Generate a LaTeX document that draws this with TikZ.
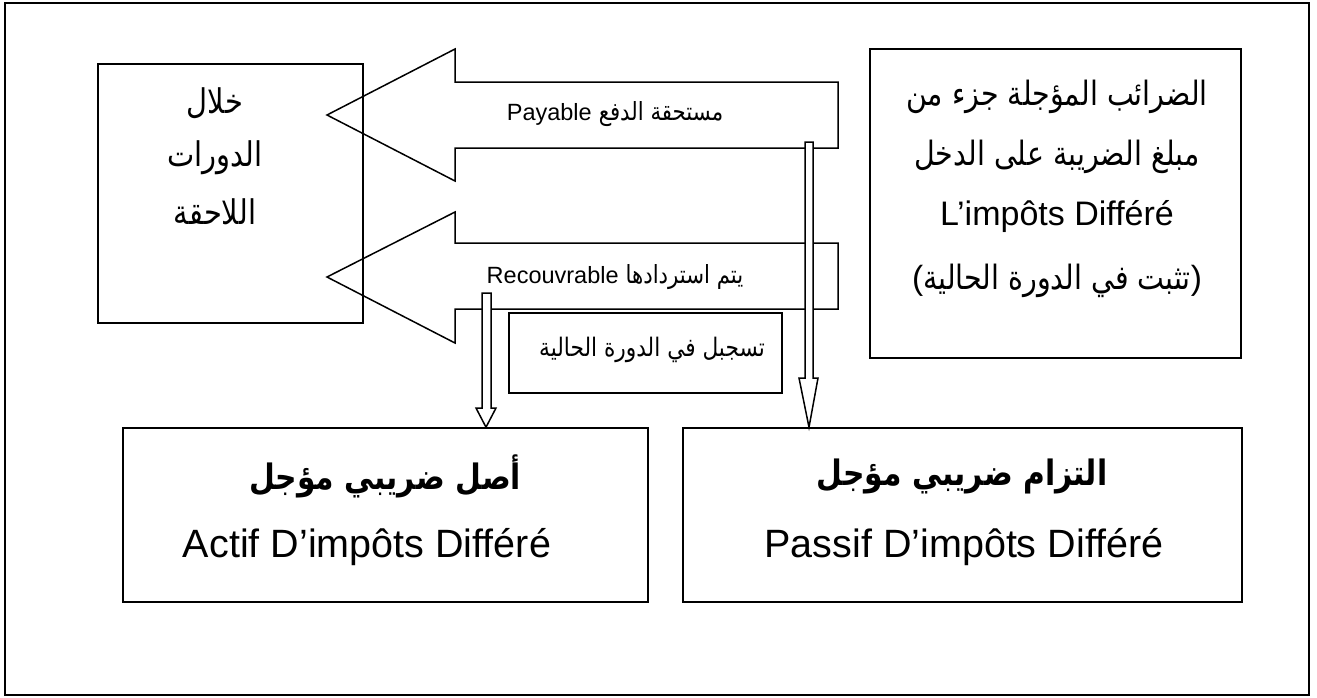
\documentclass[tikz,border=0pt]{standalone}
\usepackage{fontspec}
\setmainfont{Liberation Sans}
\newfontfamily\arabicfont[Script=Arabic, FakeStretch=0.85]{DejaVu Sans}
\TeXXeTstate=1
\newcommand{\artxt}[1]{{\arabicfont\beginR #1\endR}}
\newcommand{\fsArArrow}{\fontsize{25}{30}\selectfont}
\newcommand{\fsLatArrow}{\fontsize{23.5}{28}\selectfont}
\begin{document}
\begin{tikzpicture}[x=1pt,y=-1pt,
  frame/.style={draw, line width=2pt},
  box/.style={draw, line width=1.6pt, inner sep=0pt},
  bigarrow/.style={draw, line width=1.5pt, line join=miter},
  thinarrow/.style={draw, fill=white, line width=1.5pt, line join=miter},
  lbl/.style={inner sep=0pt, anchor=center},
  arleft/.style={font=\fontsize{34}{40}\selectfont},
  arcur/.style={font=\fontsize{25.5}{30}\selectfont},
  arright/.style={font=\fontsize{33.5}{40}\selectfont},
  arbold/.style={font=\fontsize{35}{42}\selectfont\bfseries},
  latbig/.style={font=\fontsize{39.5}{46}\selectfont},
  latmid/.style={font=\fontsize{34}{40}\selectfont}]
\useasboundingbox (0,0) rectangle (1317,697);
\node[frame, minimum width=1304pt, minimum height=692pt] (outer) at (657,349) {};
% boxes
\node[box, minimum width=265pt, minimum height=259pt] (later) at (230.5,193.5) {};
\node[box, minimum width=371pt, minimum height=309pt] (deferred) at (1055.5,203.5) {};
\node[box, minimum width=273pt, minimum height=80pt] (current) at (645.5,353) {};
\node[box, minimum width=525pt, minimum height=174pt] (actif) at (385.5,515) {};
\node[box, minimum width=559pt, minimum height=174pt] (passif) at (962.5,515) {};
% big arrows
\draw[bigarrow] (838,82) -- (455,82) -- (455,49) -- (327,115) -- (455,181) -- (455,148) -- (838,148) -- cycle;
\draw[bigarrow] (838,243) -- (455,243) -- (455,212) -- (327,277) -- (455,343) -- (455,309) -- (838,309) -- cycle;
% thin down arrows
\coordinate (pTip) at (809,0 |- passif.north);
\coordinate (aTip) at (486,0 |- actif.north);
\draw[thinarrow] (805,142) -- (813,142) -- (813,378) -- (818,378) -- (pTip) -- (799,378) -- (805,378) -- cycle;
\draw[thinarrow] (482,293) -- (491,293) -- (491,408) -- (496,408) -- (aTip) -- (476,408) -- (482,408) -- cycle;
% texts
\node[lbl] (tpay) at (615,114) {{\fsLatArrow Payable}\hspace{7pt}{\fsArArrow\artxt{مستحقة الدفع}}};
\node[lbl] (trec) at (615,277) {{\fsLatArrow Recouvrable}\hspace{7pt}{\fsArArrow\artxt{يتم استردادها}}};
\node[lbl, arcur] (tcur) at (652,350) {\artxt{تسجبل في الدورة الحالية}};
\node[lbl, arleft] (tl1) at (215,103) {\artxt{خلال}};
\node[lbl, arleft] (tl2) at (215,158) {\artxt{الدورات}};
\node[lbl, arleft] (tl3) at (215,212) {\artxt{اللاحقة}};
\node[lbl, arright] (tr1) at (1057,97) {\artxt{الضرائب المؤجلة جزء من}};
\node[lbl, arright] (tr2) at (1057,157) {\artxt{مبلغ الضريبة على الدخل}};
\node[lbl, latmid] (tr3) at (1057,217) {L’impôts Différé};
\node[lbl, arright] (tr4) at (1057,281) {(\artxt{تثبت في الدورة الحالية})};
\node[lbl, arbold] (ta1) at (385,476) {\artxt{أصل ضريبي مؤجل}};
\node[lbl, latbig, anchor=base] (ta2) at (367,557) {Actif D’impôts Différé};
\node[lbl, arbold] (tp1) at (962,476) {\artxt{التزام ضريبي مؤجل}};
\node[lbl, latbig, anchor=base] (tp2) at (964,557) {Passif D’impôts Différé};
\end{tikzpicture}
\end{document}
